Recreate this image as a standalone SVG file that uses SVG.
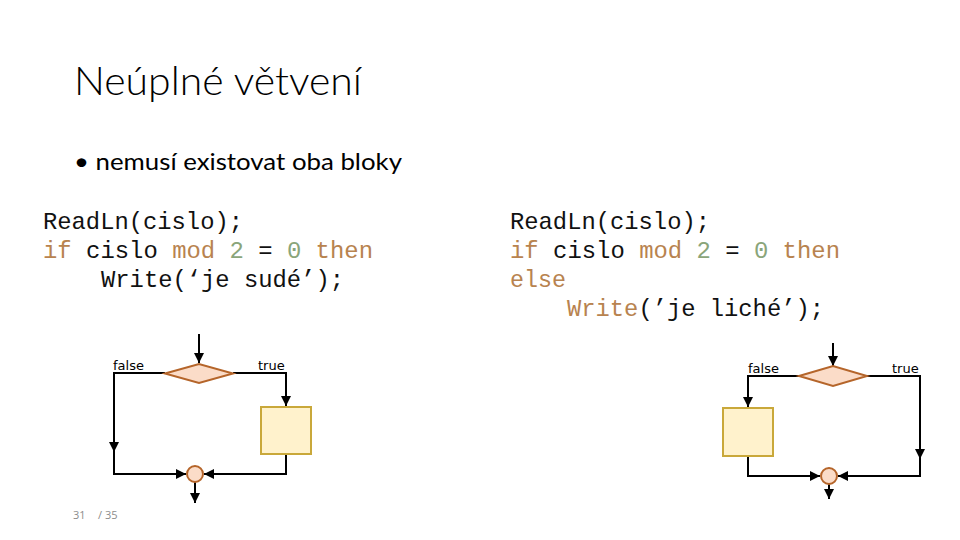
<svg xmlns="http://www.w3.org/2000/svg" width="960" height="540" viewBox="0 0 960 540">
<style>
.title{font-family:Lato,"Open Sans","Noto Sans",sans-serif;font-weight:300;font-size:40px;fill:#000}
.bul{font-family:Lato,"Open Sans","Noto Sans",sans-serif;font-size:24px;fill:#000}
.code{font-family:"Liberation Mono","Courier New",monospace;font-size:24px;fill:#111}
.kw{fill:#b8834f}
.num{fill:#8aa57a}
.lbl{font-family:"DejaVu Sans",Verdana,sans-serif;font-size:13px;fill:#000}
.pg{font-family:"Open Sans",sans-serif;font-size:11px;fill:#8c8c8c}
.ln{fill:none;stroke:#000;stroke-width:2}
.dia{fill:#fbdcc8;stroke:#b5652a;stroke-width:2}
.box{fill:#fff2cc;stroke:#c9a83a;stroke-width:2}
.cir{fill:#fbdcc8;stroke:#b5652a;stroke-width:2}
</style>
<defs>
<marker id="ah" viewBox="0 0 10 10" refX="10" refY="5" markerWidth="5" markerHeight="5" orient="auto" markerUnits="strokeWidth"><path d="M0,0 L10,5 L0,10 z" fill="#000"/></marker>
</defs>
<rect width="960" height="540" fill="#fff"/>
<text class="title" x="74" y="95" textLength="288" lengthAdjust="spacingAndGlyphs">Neúplné větvení</text>
<text class="bul" x="74" y="170" textLength="328" lengthAdjust="spacingAndGlyphs">• nemusí existovat oba bloky</text>

<g id="code-left" class="code">
<text x="43" y="229" textLength="200" lengthAdjust="spacingAndGlyphs">ReadLn(cislo);</text>
<text x="43" y="258" textLength="330" lengthAdjust="spacingAndGlyphs" xml:space="preserve"><tspan class="kw">if</tspan> cislo <tspan class="kw">mod</tspan> <tspan class="num">2</tspan> = <tspan class="num">0</tspan> <tspan class="kw">then</tspan></text>
<text x="101" y="287" textLength="243" lengthAdjust="spacingAndGlyphs">Write(‘je sudé’);</text>
</g>
<g id="code-right" class="code">
<text x="510" y="229" textLength="200" lengthAdjust="spacingAndGlyphs">ReadLn(cislo);</text>
<text x="510" y="258" textLength="330" lengthAdjust="spacingAndGlyphs" xml:space="preserve"><tspan class="kw">if</tspan> cislo <tspan class="kw">mod</tspan> <tspan class="num">2</tspan> = <tspan class="num">0</tspan> <tspan class="kw">then</tspan></text>
<text x="510" y="287" class="kw" textLength="56" lengthAdjust="spacingAndGlyphs">else</text>
<text x="567" y="316" textLength="257" lengthAdjust="spacingAndGlyphs"><tspan class="kw">Write</tspan>(’je liché’);</text>
</g>

<g id="connectors">
<line class="ln" x1="199" y1="334" x2="199" y2="363" marker-end="url(#ah)"/>
<polyline class="ln" points="165,373 114,373 114,452" marker-end="url(#ah)"/>
<polyline class="ln" points="114,450 114,474 186,474" marker-end="url(#ah)"/>
<polyline class="ln" points="233,373 286,373 286,406" marker-end="url(#ah)"/>
<polyline class="ln" points="286,454 286,474 204,474" marker-end="url(#ah)"/>
<line class="ln" x1="195" y1="482" x2="195" y2="503" marker-end="url(#ah)"/>
<line class="ln" x1="833" y1="343" x2="833" y2="366" marker-end="url(#ah)"/>
<polyline class="ln" points="799,376 748,376 748,407" marker-end="url(#ah)"/>
<polyline class="ln" points="748,456 748,476 820,476" marker-end="url(#ah)"/>
<polyline class="ln" points="867,376 920,376 920,459" marker-end="url(#ah)"/>
<polyline class="ln" points="920,457 920,476 838,476" marker-end="url(#ah)"/>
<line class="ln" x1="829" y1="484" x2="829" y2="499" marker-end="url(#ah)"/>
</g>

<g id="left-decision"><polygon class="dia" points="165,373.5 199,364 233,373.5 199,383"/></g>
<g id="left-block"><rect class="box" x="261" y="407" width="50" height="47"/></g>
<g id="left-join"><circle class="cir" cx="195" cy="474" r="8"/></g>
<text class="lbl" x="113" y="370">false</text>
<text class="lbl" x="258" y="370">true</text>

<g id="right-decision"><polygon class="dia" points="799,376 833,366 867,376 833,386"/></g>
<g id="right-block"><rect class="box" x="723" y="408" width="50" height="48"/></g>
<g id="right-join"><circle class="cir" cx="829" cy="476" r="8"/></g>
<text class="lbl" x="748" y="373">false</text>
<text class="lbl" x="892" y="373">true</text>

<text class="pg" x="73" y="519">31</text>
<text class="pg" x="98" y="519">/ 35</text>
</svg>
